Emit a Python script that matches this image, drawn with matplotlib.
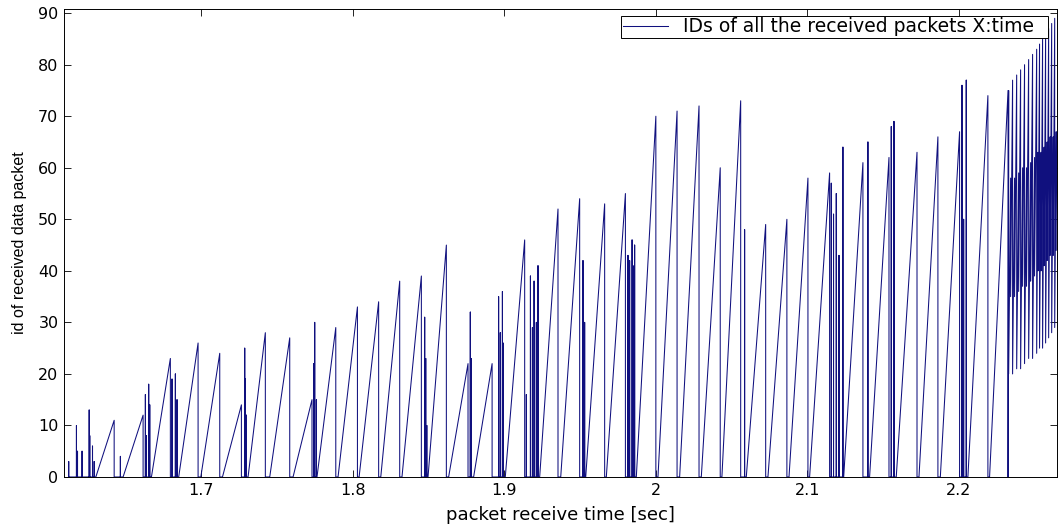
import matplotlib
matplotlib.use("Agg")
import matplotlib.pyplot as plt

plt.rcParams["font.family"] = ["DejaVu Sans"]

# sawtooth ramps: start time (id 0), peak time, peak id
ramp_start = [1.6303, 1.6483, 1.6670, 1.6850, 1.6996, 1.7139, 1.7308, 1.7451,
              1.7605, 1.7763, 1.7902, 1.8041, 1.8184, 1.8324, 1.8496, 1.8632,
              1.8797, 1.9006, 1.9233, 1.9372, 1.9537, 1.9673, 1.9871, 2.0014,
              2.0157, 2.0300, 2.0436, 2.0597, 2.0740, 2.0879, 2.1015, 2.1240,
              2.1411, 2.1587, 2.1737, 2.1878, 2.2060, 2.2203]
ramp_peak_t = [1.6424, 1.6615, 1.6795, 1.6978, 1.7121, 1.7264, 1.7422, 1.7583,
               1.7730, 1.7887, 1.8030, 1.8170, 1.8309, 1.8452, 1.8617, 1.8760,
               1.8919, 1.9134, 1.9354, 1.9497, 1.9662, 1.9799, 2.0000, 2.0140,
               2.0285, 2.0425, 2.0560, 2.0725, 2.0865, 2.1004, 2.1147, 2.1367,
               2.1539, 2.1724, 2.1862, 2.2005, 2.2192, 2.2325]
ramp_peak_id = [11, 12, 23, 26, 24, 14, 28, 27, 15, 29, 33, 34, 38, 39, 45, 22,
                22, 46, 52, 54, 53, 55, 70, 71, 72, 60, 73, 49, 50, 58, 59, 61,
                62, 63, 66, 67, 74, 75]

# short out-of-order packets (vertical spikes)
spike_t = [1.6124, 1.6175, 1.6182, 1.6212, 1.6259, 1.6263, 1.6281, 1.6292,
           1.6465, 1.6630, 1.6637, 1.6652, 1.6659, 1.6806, 1.6828, 1.6839,
           1.7286, 1.7290, 1.7297, 1.7741, 1.7748, 1.7759, 1.8474, 1.8481,
           1.8488, 1.8775, 1.8782, 1.8962, 1.8973, 1.8987, 1.8991, 1.9145,
           1.9172, 1.9185, 1.9196, 1.9211, 1.9222, 1.9519, 1.9530, 1.9816,
           1.9827, 1.9843, 1.9849, 1.9860, 2.0586, 2.1158, 2.1173, 2.1191,
           2.1209, 2.1235, 2.1400, 2.1554, 2.1572, 2.2021, 2.2032, 2.2049]
spike_id = [3, 10, 5, 5, 13, 8, 6, 3,
            4, 16, 8, 18, 14, 19, 20, 15,
            25, 19, 12, 22, 30, 15, 31, 23,
            10, 32, 23, 35, 28, 36, 26, 16,
            39, 29, 38, 30, 41, 42, 30, 43,
            42, 46, 41, 45, 48, 57, 51, 55,
            43, 64, 65, 68, 69, 76, 50, 77]

# congested tail: tall swings and mid-band swings
tall_t = [2.2329, 2.2355, 2.2382, 2.2408, 2.2434, 2.2461, 2.2487, 2.2514,
          2.2533, 2.2553, 2.2573, 2.2593, 2.2613, 2.2633]
tall_top = [75, 77, 78, 79, 80, 81, 82, 83, 84, 85, 86, 87, 88, 89]
tall_low = [20, 20, 21, 21, 22, 23, 23, 24, 25, 25, 26, 27, 28, 29]
band_t = [2.2342, 2.2368, 2.2395, 2.2421, 2.2447, 2.2474, 2.2500, 2.2523,
          2.2543, 2.2563, 2.2583, 2.2603, 2.2623, 2.2643]
band_hi = [58, 58, 59, 60, 60, 61, 62, 63, 63, 64, 65, 66, 66, 67]
band_lo = [35, 35, 36, 37, 37, 38, 39, 40, 40, 41, 42, 43, 43, 44]

# assemble the polyline in time order
groups = []
for s, pt, pk in zip(ramp_start, ramp_peak_t, ramp_peak_id):
    groups.append([(s, 0), (pt, pk), (pt, 0)])
for t, v in zip(spike_t, spike_id):
    groups.append([(t, 0), (t, v), (t, 0)])
groups.sort(key=lambda g: g[0][0])
xs, ys = [], []
for g in groups:
    for x, y in g:
        xs.append(x)
        ys.append(y)
for t1, a, b, t2, c, d in zip(tall_t, tall_top, tall_low, band_t, band_hi, band_lo):
    xs += [t1, t1, t2, t2]
    ys += [a, b, c, d]

fig = plt.figure(figsize=(10.6, 5.32), dpi=100)
ax = fig.add_axes([0.0604, 0.1034, 0.9366, 0.8796])
ax.plot(xs, ys, color="#10107e", linewidth=0.75,
        label="IDs of all the received packets X:time")

ax.set_xlim(1.6093, 2.2647)
ax.set_ylim(0, 90.8)
ax.set_xticks([1.7, 1.8, 1.9, 2.0, 2.1, 2.2])
ax.set_xticklabels(["1.7", "1.8", "1.9", "2", "2.1", "2.2"])
ax.set_yticks(range(0, 91, 10))
ax.tick_params(direction="in", top=True, right=True, length=5, width=0.6,
               labelsize=11.5, pad=4)
for sp in ax.spines.values():
    sp.set_linewidth(0.7)
ax.set_xlabel("packet receive time [sec]", fontsize=13, labelpad=6)
ax.set_ylabel("id of received data packet", fontsize=11.5,
              family="Liberation Sans", labelpad=8)

leg = ax.legend(loc="upper left", bbox_to_anchor=(0.561, 0.0, 0.430, 0.986),
                mode="expand", borderaxespad=0, fontsize=13.5, fancybox=False,
                edgecolor="black", framealpha=1, handlelength=2.4,
                handletextpad=0.8, borderpad=0.1)
leg.get_frame().set_linewidth(0.7)

fig.savefig("out.png", dpi=100)
